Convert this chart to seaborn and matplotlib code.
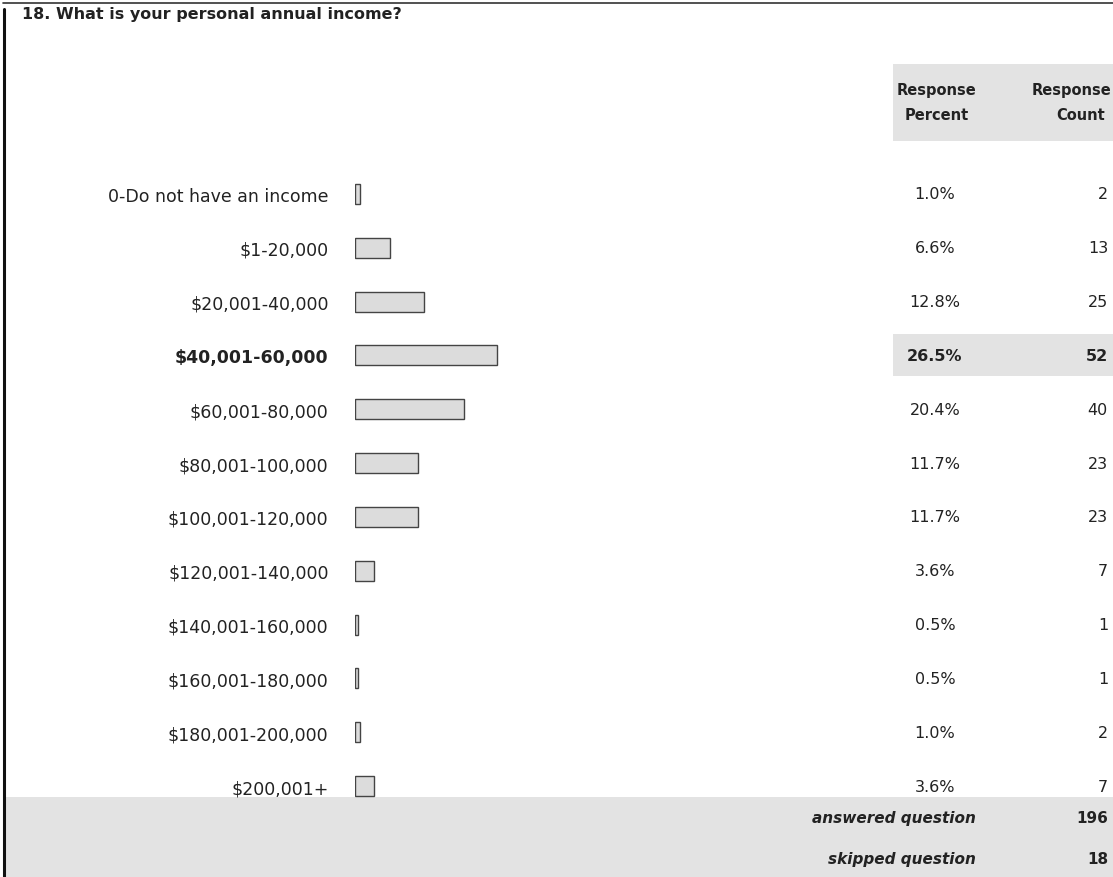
import matplotlib
matplotlib.use("Agg")
import matplotlib.pyplot as plt
import matplotlib.transforms as mtransforms
from matplotlib.patches import Rectangle
import seaborn as sns
import pandas as pd

# Survey question data
question = "18. What is your personal annual income?"
categories = [
    "0-Do not have an income",
    "$1-20,000",
    "$20,001-40,000",
    "$40,001-60,000",
    "$60,001-80,000",
    "$80,001-100,000",
    "$100,001-120,000",
    "$120,001-140,000",
    "$140,001-160,000",
    "$160,001-180,000",
    "$180,001-200,000",
    "$200,001+",
]
percents = [1.0, 6.6, 12.8, 26.5, 20.4, 11.7, 11.7, 3.6, 0.5, 0.5, 1.0, 3.6]
counts = [2, 13, 25, 52, 40, 23, 23, 7, 1, 1, 2, 7]
answered = 196
skipped = 18

sns.set_theme(style="white")
plt.rcParams["font.family"] = ["DejaVu Sans"]

W, H = 1113, 878
fig = plt.figure(figsize=(W / 100, H / 100), dpi=100)
fig.patch.set_facecolor("white")

def fx(px):
    return px / W

def fy(py):
    return 1 - py / H

band = "#e3e3e3"
txt = "#222222"

# header block behind the column titles
fig.add_artist(Rectangle((fx(893), fy(142)), fx(W - 893), 77 / H,
                         transform=fig.transFigure, facecolor=band,
                         edgecolor="none", zorder=0))
# footer block for the totals
fig.add_artist(Rectangle((fx(5), 0), fx(W - 5), 80 / H,
                         transform=fig.transFigure, facecolor=band,
                         edgecolor="none", zorder=0))
# outer frame lines (top and left)
fig.add_artist(plt.Line2D([fx(3), 1], [fy(4), fy(4)], transform=fig.transFigure,
                          color="#333333", lw=1.2))
fig.add_artist(plt.Line2D([fx(4), fx(4)], [fy(10), 0], transform=fig.transFigure,
                          color="#111111", lw=2.2))

fig.text(fx(22), fy(14), question, ha="left", va="center",
         fontsize=11.5, fontweight="bold", color=txt)

# bar area: 0..100 % spans the space up to the table columns
ax = fig.add_axes([fx(355), fy(814), fx(891 - 355), 646 / H])
df = pd.DataFrame({"category": categories, "percent": percents})
sns.barplot(data=df, x="percent", y="category", orient="h", color="#dcdcdc",
            edgecolor="#444444", linewidth=1.0, width=0.37, ax=ax,
            saturation=1)
ax.set_xlim(0, 100)
ax.set_ylim(len(categories) - 0.5, -0.5)
ax.set_xlabel("")
ax.set_ylabel("")
ax.set_xticks([])
ax.tick_params(axis="y", length=0, pad=19, labelsize=12.5, labelcolor=txt)
for s in ax.spines.values():
    s.set_visible(False)
ax.patch.set_alpha(0)

top = max(range(len(percents)), key=lambda i: percents[i])
for i, lab in enumerate(ax.get_yticklabels()):
    if i == top:
        lab.set_fontweight("bold")

trans = mtransforms.blended_transform_factory(fig.transFigure, ax.transData)

# highlighted row for the most frequent answer
fig.add_artist(Rectangle((fx(893), top - 0.39), fx(W - 893), 0.78,
                         transform=trans, facecolor=band, edgecolor="none",
                         zorder=0))

fig.text(fx(937), fy(91), "Response", ha="center", va="center",
         fontsize=10.5, fontweight="bold", color=txt)
fig.text(fx(937), fy(116), "Percent", ha="center", va="center",
         fontsize=10.5, fontweight="bold", color=txt)
fig.text(fx(1111), fy(91), "Response", ha="right", va="center",
         fontsize=10.5, fontweight="bold", color=txt)
fig.text(fx(1081), fy(116), "Count", ha="center", va="center",
         fontsize=10.5, fontweight="bold", color=txt)

for i, (p, c) in enumerate(zip(percents, counts)):
    w = "bold" if i == top else "normal"
    ax.text(fx(935), i, f"{p:.1f}%", transform=trans, ha="center",
            va="center", fontsize=11.5, color=txt, fontweight=w)
    ax.text(fx(1108), i, f"{c}", transform=trans, ha="right",
            va="center", fontsize=11.5, color=txt, fontweight=w)

fig.text(fx(976), fy(819), "answered question", ha="right", va="center",
         fontsize=11, fontweight="bold", fontstyle="italic", color=txt)
fig.text(fx(1108), fy(819), f"{answered}", ha="right", va="center",
         fontsize=11, fontweight="bold", color=txt)
fig.text(fx(976), fy(860), "skipped question", ha="right", va="center",
         fontsize=11, fontweight="bold", fontstyle="italic", color=txt)
fig.text(fx(1108), fy(860), f"{skipped}", ha="right", va="center",
         fontsize=11, fontweight="bold", color=txt)

fig.savefig("out.png", dpi=100, facecolor="white")
